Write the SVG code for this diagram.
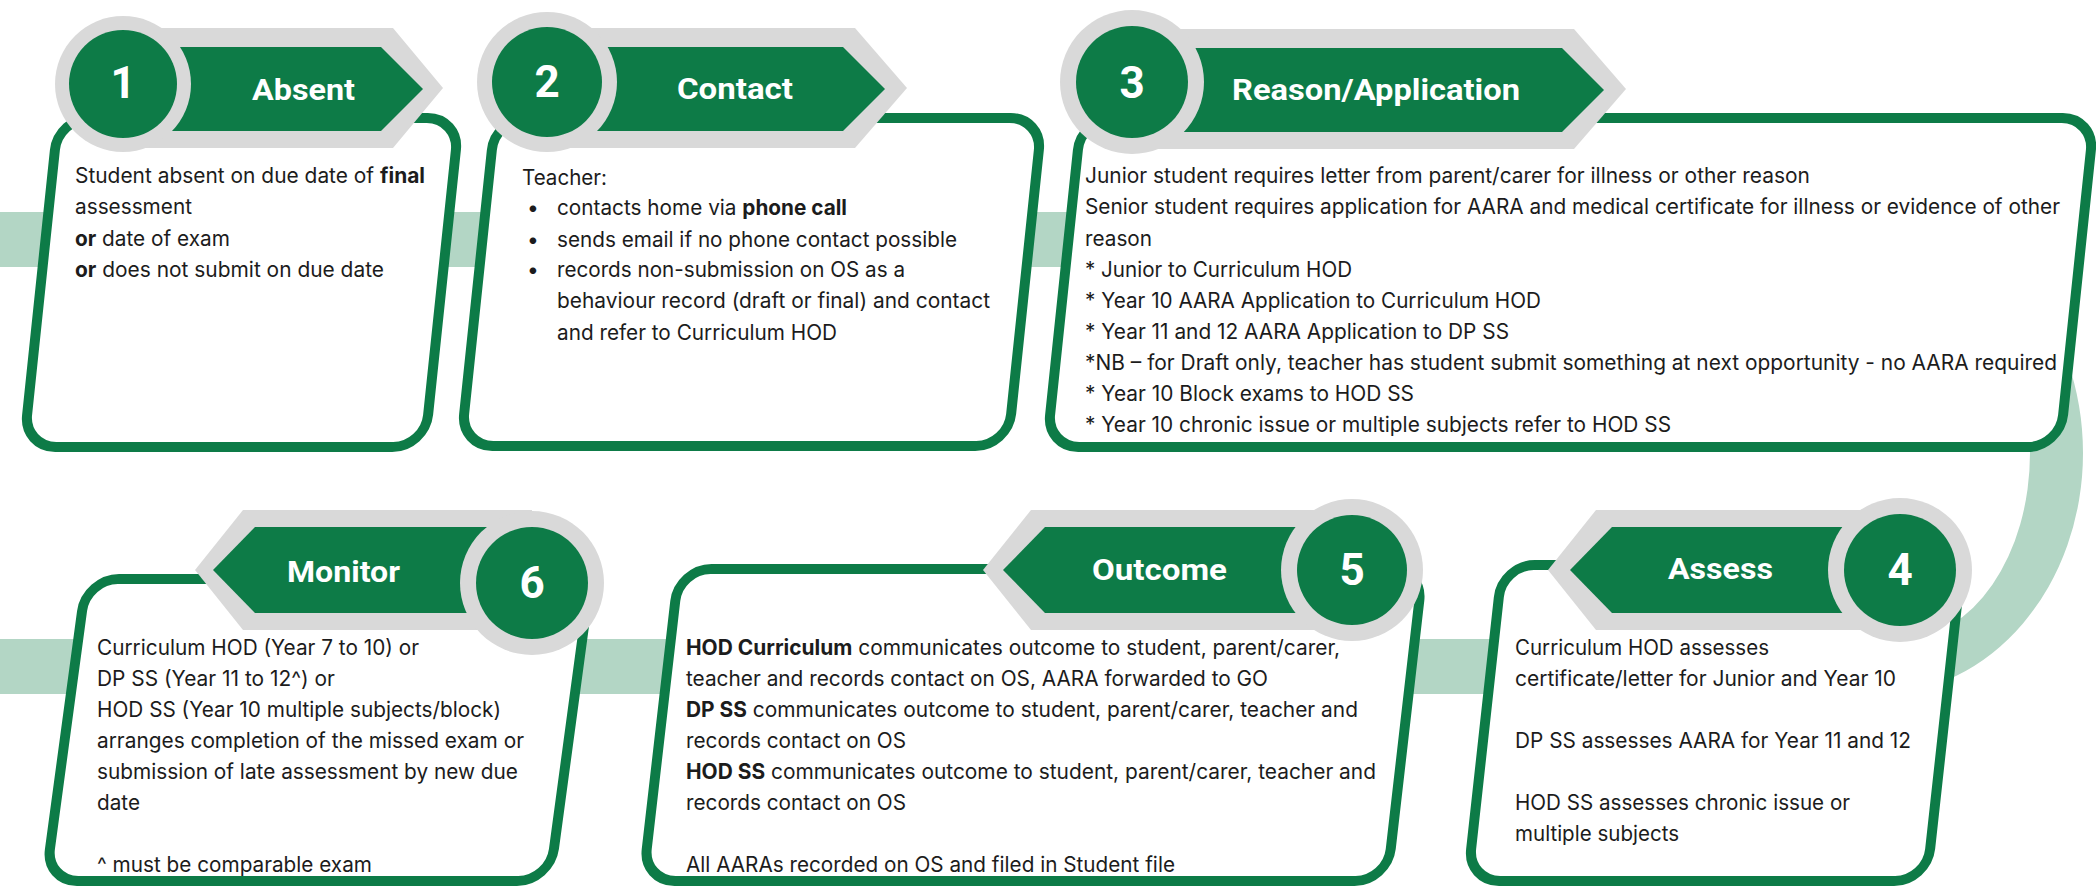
<svg xmlns="http://www.w3.org/2000/svg" width="2096" height="887" viewBox="0 0 2096 887">
<style>
.band{fill:#b3d6c5}
.box{fill:#ffffff;stroke:#0d7b47;stroke-width:10}
.gb{fill:#d9d9d9}
.g{fill:#0d7b47}
.num{font-family:Roboto,'Liberation Sans',sans-serif;font-weight:700;font-size:44px;fill:#ffffff;text-anchor:middle}
.lbl{font-family:Roboto,'Liberation Sans',sans-serif;font-weight:700;font-size:29px;fill:#ffffff}
.t{font-family:Inter,'Liberation Sans',sans-serif;font-size:21px;fill:#1c1c1c}
.b{font-weight:700}
</style>
<rect width="2096" height="887" fill="#ffffff"/>
<g id="connectors">
<path class="band" d="M0,212 H1878 A205,241 0 0 1 1878,694 H0 V639 H1902 A128,186 0 0 0 1902,267 H0 Z"/>
</g>

<g id="step1">
<rect class="box" x="41" y="118" width="401" height="329" rx="32" transform="matrix(1 0 -0.105 1 29.66 0)"/>
<path class="gb" d="M123,28 H393 L443,88 L393,148 H123 Z"/>
<path class="g" d="M123,47 H381 L423,89 L381,131 H123 Z"/>
<circle class="gb" cx="123" cy="84" r="68"/>
<circle class="g" cx="123" cy="84" r="54"/>
<text class="num" x="123" y="98">1</text>
<text class="lbl" x="252" y="100" textLength="103" lengthAdjust="spacingAndGlyphs">Absent</text>
<text class="t" x="75" y="183" textLength="350" lengthAdjust="spacingAndGlyphs">Student absent on due date of <tspan class="b">final</tspan></text>
<text class="t" x="75" y="214" textLength="117" lengthAdjust="spacingAndGlyphs">assessment</text>
<text class="t" x="75" y="246" textLength="155" lengthAdjust="spacingAndGlyphs"><tspan class="b">or</tspan> date of exam</text>
<text class="t" x="75" y="277" textLength="309" lengthAdjust="spacingAndGlyphs"><tspan class="b">or</tspan> does not submit on due date</text>
</g>

<g id="step2">
<rect class="box" x="478" y="118" width="547" height="328" rx="32" transform="matrix(1 0 -0.105 1 29.61 0)"/>
<path class="gb" d="M547,28 H855 L907,88 L855,148 H547 Z"/>
<path class="g" d="M547,47 H843 L885,89 L843,131 H547 Z"/>
<circle class="gb" cx="547" cy="82" r="70"/>
<circle class="g" cx="547" cy="82" r="55"/>
<text class="num" x="547" y="97">2</text>
<text class="lbl" x="677" y="99" textLength="116" lengthAdjust="spacingAndGlyphs">Contact</text>
<text class="t" x="522" y="185" textLength="85" lengthAdjust="spacingAndGlyphs">Teacher:</text>
<text class="t" x="527" y="215">•</text>
<text class="t" x="557" y="215" textLength="290" lengthAdjust="spacingAndGlyphs">contacts home via <tspan class="b">phone call</tspan></text>
<text class="t" x="527" y="247">•</text>
<text class="t" x="557" y="247" textLength="400" lengthAdjust="spacingAndGlyphs">sends email if no phone contact possible</text>
<text class="t" x="527" y="277">•</text>
<text class="t" x="557" y="277" textLength="348" lengthAdjust="spacingAndGlyphs">records non-submission on OS as a</text>
<text class="t" x="557" y="308" textLength="433" lengthAdjust="spacingAndGlyphs">behaviour record (draft or final) and contact</text>
<text class="t" x="557" y="340" textLength="280" lengthAdjust="spacingAndGlyphs">and refer to Curriculum HOD</text>
</g>

<g id="step3">
<rect class="box" x="1064" y="118" width="1013" height="329" rx="32" transform="matrix(1 0 -0.105 1 29.66 0)"/>
<path class="gb" d="M1132,29 H1574 L1626,89 L1574,149 H1132 Z"/>
<path class="g" d="M1132,48 H1562 L1604,90 L1562,132 H1132 Z"/>
<circle class="gb" cx="1132" cy="82" r="72"/>
<circle class="g" cx="1132" cy="82" r="56"/>
<text class="num" x="1132" y="98">3</text>
<text class="lbl" x="1232" y="100" textLength="288" lengthAdjust="spacingAndGlyphs">Reason/Application</text>
<text class="t" x="1085" y="183" textLength="725" lengthAdjust="spacingAndGlyphs">Junior student requires letter from parent/carer for illness or other reason</text>
<text class="t" x="1085" y="214" textLength="975" lengthAdjust="spacingAndGlyphs">Senior student requires application for AARA and medical certificate for illness or evidence of other</text>
<text class="t" x="1085" y="246" textLength="67" lengthAdjust="spacingAndGlyphs">reason</text>
<text class="t" x="1085" y="277" textLength="267" lengthAdjust="spacingAndGlyphs">* Junior to Curriculum HOD</text>
<text class="t" x="1085" y="308" textLength="456" lengthAdjust="spacingAndGlyphs">* Year 10 AARA Application to Curriculum HOD</text>
<text class="t" x="1085" y="339" textLength="424" lengthAdjust="spacingAndGlyphs">* Year 11 and 12 AARA Application to DP SS</text>
<text class="t" x="1085" y="370" textLength="972" lengthAdjust="spacingAndGlyphs">*NB – for Draft only, teacher has student submit something at next opportunity - no AARA required</text>
<text class="t" x="1085" y="401" textLength="329" lengthAdjust="spacingAndGlyphs">* Year 10 Block exams to HOD SS</text>
<text class="t" x="1085" y="432" textLength="586" lengthAdjust="spacingAndGlyphs">* Year 10 chronic issue or multiple subjects refer to HOD SS</text>
</g>

<g id="step4">
<rect class="box" x="1485" y="565" width="459" height="316" rx="32" transform="matrix(1 0 -0.11 1 79.53 0)"/>
<path class="gb" d="M1900,510 H1596 L1548,570 L1596,630 H1900 Z"/>
<path class="g" d="M1900,527 H1612 L1570,570 L1612,613 H1900 Z"/>
<circle class="gb" cx="1900" cy="570" r="72"/>
<circle class="g" cx="1900" cy="570" r="56"/>
<text class="num" x="1900" y="585">4</text>
<text class="lbl" x="1668" y="579" textLength="105" lengthAdjust="spacingAndGlyphs">Assess</text>
<text class="t" x="1515" y="655" textLength="254" lengthAdjust="spacingAndGlyphs">Curriculum HOD assesses</text>
<text class="t" x="1515" y="686" textLength="381" lengthAdjust="spacingAndGlyphs">certificate/letter for Junior and Year 10</text>
<text class="t" x="1515" y="748" textLength="396" lengthAdjust="spacingAndGlyphs">DP SS assesses AARA for Year 11 and 12</text>
<text class="t" x="1515" y="810" textLength="335" lengthAdjust="spacingAndGlyphs">HOD SS assesses chronic issue or</text>
<text class="t" x="1515" y="841" textLength="164" lengthAdjust="spacingAndGlyphs">multiple subjects</text>
</g>

<g id="step5">
<rect class="box" x="661" y="569" width="744" height="312" rx="32" transform="matrix(1 0 -0.115 1 83.38 0)"/>
<path class="gb" d="M1352,510 H1031 L983,570 L1031,630 H1352 Z"/>
<path class="g" d="M1352,527 H1045 L1003,570 L1045,613 H1352 Z"/>
<circle class="gb" cx="1352" cy="570" r="71"/>
<circle class="g" cx="1352" cy="570" r="55"/>
<text class="num" x="1352" y="585">5</text>
<text class="lbl" x="1092" y="580" textLength="135" lengthAdjust="spacingAndGlyphs">Outcome</text>
<text class="t" x="686" y="655" textLength="654" lengthAdjust="spacingAndGlyphs"><tspan class="b">HOD Curriculum</tspan> communicates outcome to student, parent/carer,</text>
<text class="t" x="686" y="686" textLength="582" lengthAdjust="spacingAndGlyphs">teacher and records contact on OS, AARA forwarded to GO</text>
<text class="t" x="686" y="717" textLength="672" lengthAdjust="spacingAndGlyphs"><tspan class="b">DP SS</tspan> communicates outcome to student, parent/carer, teacher and</text>
<text class="t" x="686" y="748" textLength="220" lengthAdjust="spacingAndGlyphs">records contact on OS</text>
<text class="t" x="686" y="779" textLength="690" lengthAdjust="spacingAndGlyphs"><tspan class="b">HOD SS</tspan> communicates outcome to student, parent/carer, teacher and</text>
<text class="t" x="686" y="810" textLength="220" lengthAdjust="spacingAndGlyphs">records contact on OS</text>
<text class="t" x="686" y="872" textLength="489" lengthAdjust="spacingAndGlyphs">All AARAs recorded on OS and filed in Student file</text>
</g>

<g id="step6">
<rect class="box" x="66" y="579" width="504" height="302" rx="32" transform="matrix(1 0 -0.135 1 98.55 0)"/>
<path class="gb" d="M532,510 H243 L195,570 L243,630 H532 Z"/>
<path class="g" d="M532,527 H255 L213,570 L255,613 H532 Z"/>
<circle class="gb" cx="532" cy="583" r="72"/>
<circle class="g" cx="532" cy="583" r="56"/>
<text class="num" x="532" y="598">6</text>
<text class="lbl" x="287" y="582" textLength="113" lengthAdjust="spacingAndGlyphs">Monitor</text>
<text class="t" x="97" y="655" textLength="322" lengthAdjust="spacingAndGlyphs">Curriculum HOD (Year 7 to 10) or</text>
<text class="t" x="97" y="686" textLength="238" lengthAdjust="spacingAndGlyphs">DP SS (Year 11 to 12^) or</text>
<text class="t" x="97" y="717" textLength="404" lengthAdjust="spacingAndGlyphs">HOD SS (Year 10 multiple subjects/block)</text>
<text class="t" x="97" y="748" textLength="427" lengthAdjust="spacingAndGlyphs">arranges completion of the missed exam or</text>
<text class="t" x="97" y="779" textLength="421" lengthAdjust="spacingAndGlyphs">submission of late assessment by new due</text>
<text class="t" x="97" y="810" textLength="43" lengthAdjust="spacingAndGlyphs">date</text>
<text class="t" x="97" y="872" textLength="275" lengthAdjust="spacingAndGlyphs">^ must be comparable exam</text>
</g>
</svg>
